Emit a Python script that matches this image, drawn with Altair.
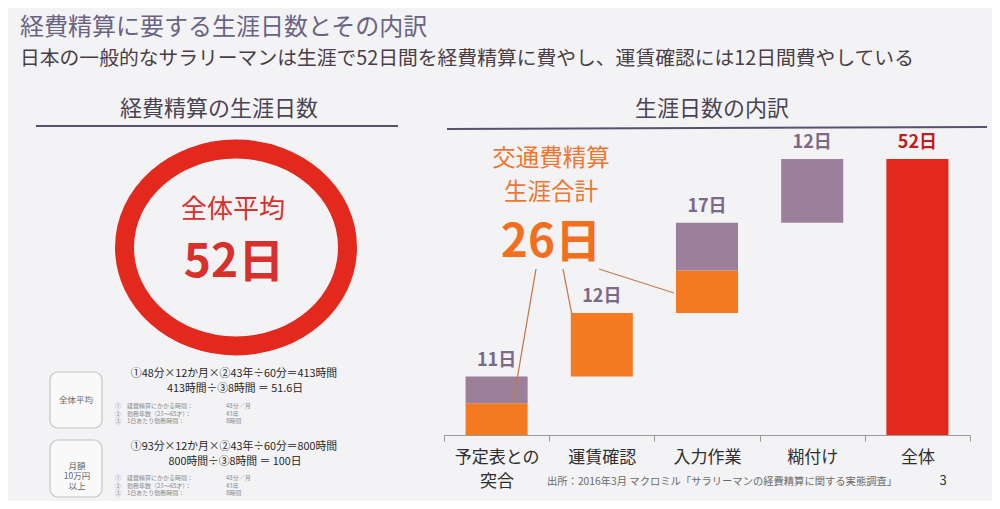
import altair as alt
import pandas as pd

FONT = "Noto Sans CJK JP"

# ---------------- data ----------------
categories = ["予定表との\n突合", "運賃確認", "入力作業", "糊付け", "全体"]
transport_days = [6, 12, 8, 0]     # 交通費精算 (orange part)
other_days = [5, 0, 9, 12]         # その他 (purple part)
total_days = 52
step_labels = ["11日", "12日", "17日", "12日", "52日"]
kinds = ["交通費", "その他", "全体"]
kind_colors = ["#f47a22", "#9c7f99", "#e3291d"]
label_colors = ["#7a6a88", "#7a6a88", "#7a6a88", "#7a6a88", "#c21d18"]

title_text = "経費精算に要する生涯日数とその内訳"
subtitle_text = "日本の一般的なサラリーマンは生涯で52日間を経費精算に費やし、運賃確認には12日間費やしている"
left_header = "経費精算の生涯日数"
right_header = "生涯日数の内訳"
ring_lines = ["全体平均", "52日"]
callout_lines = ["交通費精算", "生涯合計", "26日"]
box_labels = [["全体平均"], ["月額", "10万円", "以上"]]
formula_a = ["①48分×12か月×②43年÷60分＝413時間", "413時間÷③8時間 ＝ 51.6日"]
formula_b = ["①93分×12か月×②43年÷60分＝800時間", "800時間÷③8時間 ＝ 100日"]
note_marks = ["①", "②", "③"]
note_items = ["経費精算にかかる時間：", "勤務年数（23～65才）：", "1日あたり勤務時間："]
note_values = ["48分／月", "43年", "8時間"]
source_text = "出所：2016年3月 マクロミル「サラリーマンの経費精算に関する実態調査」"
page_no = "3"

# ---------------- build tables ----------------
rows = []
base = 0
for cat, o, p in zip(categories[:4], transport_days, other_days):
    if o:
        rows.append(dict(cat=cat, start=base, end=base + o, kind=kinds[0]))
    if p:
        rows.append(dict(cat=cat, start=base + o, end=base + o + p, kind=kinds[1]))
    base += o + p
rows.append(dict(cat=categories[4], start=0, end=total_days, kind=kinds[2]))
seg = pd.DataFrame(rows)

tops = []
base = 0
for o, p in zip(transport_days, other_days):
    base += o + p
    tops.append(base)
tops.append(total_days)
lab = pd.DataFrame({"cat": categories, "top": tops, "text": step_labels,
                    "lcolor": label_colors})

one = pd.DataFrame({"k": [0]})
OX, OY = 8, 8  # page margin offset


def P(x, y):
    return dict(x=alt.value(x - OX), y=alt.value(y - OY))


def txt(s, x, y, size, color, weight="normal", align="center", line_height=None):
    kw = dict(text=s, font=FONT, fontSize=size, color=color, fontWeight=weight,
              align=align, baseline="middle")
    if line_height:
        kw["lineHeight"] = line_height
    return alt.Chart(one).mark_text(**kw).encode(**P(x, y))


def rule(x1, y1, x2, y2, color, width):
    return alt.Chart(one).mark_rule(color=color, strokeWidth=width).encode(
        x=alt.value(x1 - OX), y=alt.value(y1 - OY),
        x2=alt.value(x2 - OX), y2=alt.value(y2 - OY))


def box(x1, y1, x2, y2):
    return alt.Chart(one).mark_rect(cornerRadius=8, fill="#f9f9fa", stroke="#c4c4c8",
                                    strokeWidth=1.2).encode(
        x=alt.value(x1 - OX), y=alt.value(y1 - OY),
        x2=alt.value(x2 - OX), y2=alt.value(y2 - OY))


x_enc = alt.X("cat:N", sort=categories,
              scale=alt.Scale(domain=categories, range=[444 - OX, 970 - OX],
                              paddingInner=0, paddingOuter=0),
              axis=alt.Axis(title=None, tickBand="extent", labelAngle=0,
                            labelExpr="split(datum.label, '\\n')",
                            labelFont=FONT, labelFontSize=17, labelColor="#2e2e2e",
                            labelLineHeight=24, labelPadding=8, tickSize=6,
                            tickColor="#9a9a9a", domainColor="#9a9a9a", grid=False))
y_scale = alt.Scale(domain=[0, total_days], range=[435 - OY, 159 - OY], nice=False, zero=True)

bars = alt.Chart(seg).mark_bar(width=alt.RelativeBandSize(0.59)).encode(
    x=x_enc,
    y=alt.Y("start:Q", scale=y_scale, axis=None),
    y2="end:Q",
    color=alt.Color("kind:N", scale=alt.Scale(domain=kinds, range=kind_colors), legend=None),
)

labels = alt.Chart(lab).mark_text(font=FONT, fontSize=18, fontWeight="bold",
                                  baseline="middle", dy=-16).encode(
    x=alt.X("cat:N", sort=categories),
    y=alt.Y("top:Q"),
    text="text:N",
    color=alt.Color("lcolor:N", scale=None, legend=None),
)

layers = []
# header texts
layers.append(txt(title_text, 20, 28, 24, "#6a6483", align="left"))
layers.append(txt(subtitle_text, 20, 59, 19.8, "#4a3d45", align="left"))
layers.append(txt(left_header, 219, 109, 22, "#4a4352"))
layers.append(txt(right_header, 712, 109, 22, "#4a4352"))
layers.append(rule(36, 126, 398, 126, "#5b4f6e", 2))
layers.append(rule(447, 129, 987, 127, "#5b4f6e", 2))

# ring
ELLIPSE = "M -1 0 A 1 0.883 0 1 1 1 0 A 1 0.883 0 1 1 -1 0 Z"
ring = alt.Chart(one).mark_point(shape=ELLIPSE, size=(2 * 111.5) ** 2, filled=False,
                                 color="#e3291d", strokeWidth=19, opacity=1).encode(**P(236, 247.5))
layers.append(ring)
layers.append(txt(ring_lines[0], 233, 210, 26, "#d8302c"))
layers.append(txt(ring_lines[1], 234, 263, 46, "#d8302c", weight="bold"))

# lower-left boxes and formulas
layers.append(box(50, 372, 102, 428))
layers.append(box(50, 440, 102, 497))
layers.append(txt(box_labels[0], 76, 400, 8.5, "#666666"))
layers.append(txt(box_labels[1], 77, 466, 8.5, "#666666", line_height=10))
for fy, flines in ((374, formula_a), (447, formula_b)):
    layers.append(txt(flines[0], 234, fy, 10.8, "#262626"))
    layers.append(txt(flines[1], 235, fy + 15, 10.8, "#262626"))
for ny in (406, 478):
    for i in range(3):
        yy = ny + i * 7.5
        layers.append(txt(note_marks[i], 115, yy, 6, "#8a8a8a", align="left"))
        layers.append(txt(note_items[i], 127, yy, 6, "#8a8a8a", align="left"))
        layers.append(txt(note_values[i], 226, yy, 6, "#8a8a8a", align="left"))

# callout
layers.append(txt(callout_lines[0], 551, 159, 23.5, "#ef7630"))
layers.append(txt(callout_lines[1], 551, 193, 23.5, "#ef7630"))
layers.append(txt(callout_lines[2], 551, 243, 46, "#f26f20", weight="bold"))

chart_layers = layers + [bars]
chart_layers.append(rule(536, 269, 513, 403, "#c47a4c", 1.3))
chart_layers.append(rule(563, 269, 572, 315, "#c47a4c", 1.3))
chart_layers.append(rule(599, 269, 674, 293, "#c47a4c", 1.3))
chart_layers.append(labels)

# footer
chart_layers.append(txt(source_text, 547, 482, 10.3, "#6a6a6a", align="left"))
chart_layers.append(txt(page_no, 943, 481, 13, "#333333"))

chart = alt.layer(*chart_layers).properties(
    width=984, height=427,
    padding={"left": 0, "top": 0, "right": 0, "bottom": 66},
    autosize=alt.AutoSizeParams(type="none"),
    background="#f3f3f5",
).configure_view(stroke=None)

chart.save("out.html", embed_options={"renderer": "svg", "actions": False})
